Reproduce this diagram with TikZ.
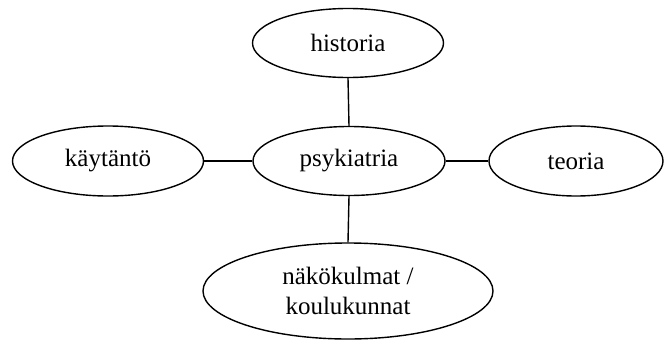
\documentclass[tikz,border=0pt]{standalone}
\usepackage{fontspec}
\setmainfont{Liberation Serif}
\usetikzlibrary{shapes.geometric}
\begin{document}
\begin{tikzpicture}[x=1pt,y=-1pt,
  oval/.style={draw, ellipse, line width=1.4pt, inner sep=0pt, align=center,
    font=\fontsize{25}{30}\selectfont},
  link/.style={line width=1.4pt}]
\useasboundingbox (0,0) rectangle (667,343);
\node[oval, minimum width=191pt, minimum height=69pt] (hist) at (348,43) {historia};
\node[oval, minimum width=192pt, minimum height=69pt] (psyk) at (349,161) {psykiatria};
\node[oval, minimum width=191pt, minimum height=70pt] (kayt) at (108,161) {käytäntö};
\node[oval, minimum width=174pt, minimum height=70pt] (teor) at (576,161) {teoria};
\node[oval, minimum width=290pt, minimum height=96pt] (nako) at (348,291) {näkökulmat /\\koulukunnat};
\draw[link] (hist.south) -- (psyk.north);
\draw[link] (psyk.south) -- (nako.north);
\draw[link] (kayt.east) -- (psyk.west);
\draw[link] (psyk.east) -- (teor.west);
\end{tikzpicture}
\end{document}
